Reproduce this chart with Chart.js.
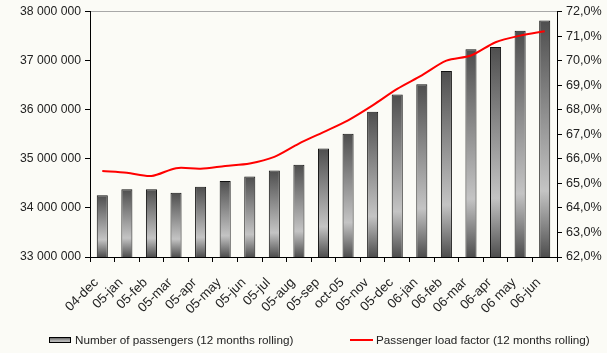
<!DOCTYPE html>
<html>
<head>
<meta charset="utf-8">
<script src="https://cdn.jsdelivr.net/npm/chart.js@4/dist/chart.umd.min.js"></script>
<style>
  html, body { margin: 0; padding: 0; background: #fbfbf6; }
  #wrap { position: relative; width: 607px; height: 353px; }
</style>
</head>
<body>
<div id="wrap"><canvas id="c" width="607" height="353"></canvas></div>
<script>
// Monthly periods
const months = ['04-dec', '05-jan', '05-feb', '05-mar', '05-apr', '05-may', '05-jun', '05-jul',
  '05-aug', '05-sep', 'oct-05', '05-nov', '05-dec', '06-jan', '06-feb', '06-mar', '06-apr',
  '06 may', '06-jun'];

// Number of passengers, 12 months rolling
const passengers = [34260000, 34380000, 34380000, 34310000, 34430000, 34550000, 34640000,
  34760000, 34880000, 35210000, 35510000, 35960000, 36310000, 36520000, 36790000, 37230000,
  37280000, 37610000, 37820000];

// Passenger load factor (%), 12 months rolling
const loadFactor = [65.50, 65.43, 65.30, 65.62, 65.60, 65.71, 65.81, 66.08, 66.62, 67.09,
  67.57, 68.18, 68.85, 69.40, 70.00, 70.21, 70.75, 71.02, 71.20];

// Axis ranges
const paxMin = 33000000, paxMax = 38000000, paxStep = 1000000;
const lfMin = 62, lfMax = 72, lfStep = 1;

const legendPax = 'Number of passengers (12 months rolling)';
const legendLf = 'Passenger load factor (12 months rolling)';

const FONT = '"Liberation Sans", Arial, sans-serif';

function barGradient(ctx, top, bottom) {
  const g = ctx.createLinearGradient(0, top, 0, bottom);
  g.addColorStop(0, '#4e4e4e');
  g.addColorStop(0.72, '#c4c4c4');
  g.addColorStop(1, '#4e4e4e');
  return g;
}

function fmtSpace(v) {
  return String(Math.round(v)).replace(/\B(?=(\d{3})+(?!\d))/g, ' ');
}

const legendPlugin = {
  id: 'bottomLegend',
  afterDraw(chart) {
    const ctx = chart.ctx;
    const y = 340;
    ctx.save();
    // bar swatch
    ctx.fillStyle = barGradient(ctx, y - 3, y + 3);
    ctx.fillRect(49, y - 3, 22, 6);
    ctx.strokeStyle = '#000';
    ctx.lineWidth = 1;
    ctx.strokeRect(49.5, y - 2.5, 21, 5);
    ctx.font = '11.7px ' + FONT;
    ctx.fillStyle = '#222';
    ctx.textBaseline = 'middle';
    ctx.fillText(legendPax, 75, y + 1);
    // line swatch
    ctx.strokeStyle = '#ff0000';
    ctx.lineWidth = 2;
    ctx.beginPath();
    ctx.moveTo(350, y);
    ctx.lineTo(373, y);
    ctx.stroke();
    ctx.fillText(legendLf, 376, y + 1);
    ctx.restore();
  }
};

Chart.defaults.font.family = FONT;
Chart.defaults.font.size = 12;
Chart.defaults.color = '#222';

new Chart(document.getElementById('c'), {
  data: {
    labels: months,
    datasets: [
      {
        type: 'line',
        label: legendLf,
        data: loadFactor,
        yAxisID: 'yLf',
        borderColor: '#ff0000',
        borderWidth: 2,
        pointRadius: 0,
        tension: 0.3,
        order: 0
      },
      {
        type: 'bar',
        label: legendPax,
        data: passengers,
        yAxisID: 'yPax',
        backgroundColor(c) {
          const chart = c.chart;
          const area = chart.chartArea;
          if (!area || c.dataIndex === undefined) return '#888';
          const sc = chart.scales.yPax;
          const top = sc.getPixelForValue(c.raw);
          return barGradient(chart.ctx, top, area.bottom);
        },
        borderColor: '#111',
        borderWidth: 1,
        borderSkipped: 'bottom',
        barPercentage: 0.9,
        categoryPercentage: 0.5,
        order: 1
      }
    ]
  },
  options: {
    responsive: false,
    animation: false,
    layout: { padding: { top: 11, left: 0, right: 0, bottom: 0 } },
    plugins: { legend: { display: false }, tooltip: { enabled: false } },
    scales: {
      x: {
        offset: true,
        grid: { offset: true, drawOnChartArea: false, color: '#000', tickColor: '#000', tickLength: 5 },
        border: { color: '#000', width: 1 },
        ticks: { maxRotation: 45, minRotation: 45, autoSkip: false, padding: 13, labelOffset: -6, color: '#222', font: { size: 13.2 } },
        afterFit(s) { s.height = 96; }
      },
      yPax: {
        position: 'left',
        min: paxMin, max: paxMax,
        grid: {
          drawOnChartArea: true,
          color: (c) => (c.tick && c.tick.value === paxMax ? '#a8a8a8' : 'rgba(0,0,0,0)'),
          tickColor: '#000',
          tickLength: 5
        },
        border: { color: '#000', width: 1 },
        ticks: { stepSize: paxStep, padding: 4, color: '#222', font: { size: 12.2 }, callback: (v) => fmtSpace(v) },
        afterFit(s) { s.width = 90; }
      },
      yLf: {
        position: 'right',
        min: lfMin, max: lfMax,
        grid: { drawOnChartArea: false, color: '#000', tickColor: '#000', tickLength: 5 },
        border: { color: '#000', width: 1 },
        ticks: { stepSize: lfStep, padding: 4, color: '#222', font: { size: 12.6 }, callback: (v) => v.toFixed(1).replace('.', ',') + '%' },
        afterFit(s) { s.width = 50; }
      }
    }
  },
  plugins: [legendPlugin]
});
</script>
</body>
</html>
